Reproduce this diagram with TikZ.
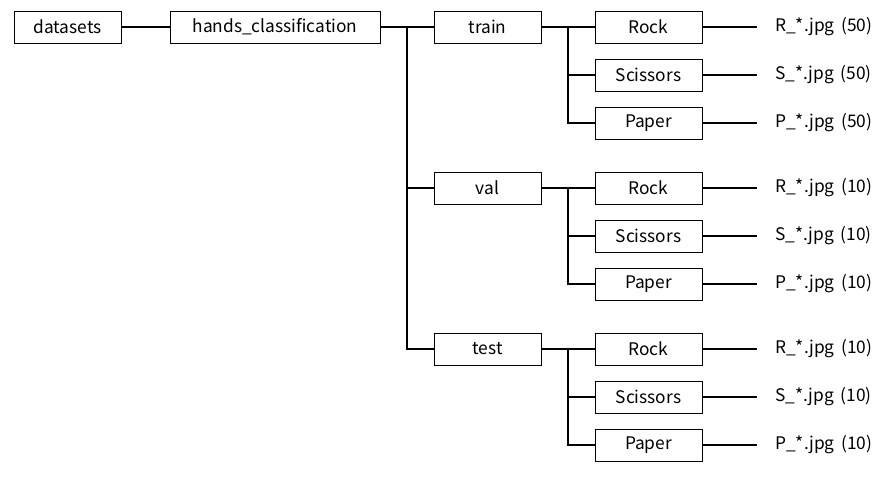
\documentclass[tikz,border=0pt]{standalone}
\usepackage{fontspec}
\setmainfont{Noto Sans CJK JP}
\usepackage{tikz}
\usetikzlibrary{positioning}

\begin{document}
\begin{tikzpicture}[
    x=0.75pt, y=-0.75pt,
    box/.style={draw=black, line width=0.75pt, minimum width=80.25pt,
                minimum height=24pt, inner sep=0pt, align=center,
                font=\fontsize{13}{15}\selectfont},
    file/.style={anchor=west, inner xsep=13.5pt, inner ysep=0pt,
                 font=\fontsize{13}{15}\selectfont},
    link/.style={line width=1.5pt},
]
\useasboundingbox (0,0) rectangle (896,479);

\node[box] (data)  at (67.5,27) {datasets};
\node[box, minimum width=157.5pt] (hands) at (275,27) {hands\_classification};
\node[box] (train) at (487.5,27)  {train};
\node[box] (val)   at (487.5,188) {val};
\node[box] (test)  at (487.5,349) {test};

% train
\node[box] (trR) at (648.5,27)  {Rock};
\node[box] (trS) at (648.5,75)  {Scissors};
\node[box] (trP) at (648.5,123) {Paper};
\node[file] (trRf) at (757,27)  {R\_*.jpg \,(50)};
\node[file] (trSf) at (757,75)  {S\_*.jpg \,(50)};
\node[file] (trPf) at (757,123) {P\_*.jpg \,(50)};

% val
\node[box] (vaR) at (648.5,188) {Rock};
\node[box] (vaS) at (648.5,236) {Scissors};
\node[box] (vaP) at (648.5,284) {Paper};
\node[file] (vaRf) at (757,188) {R\_*.jpg \,(10)};
\node[file] (vaSf) at (757,236) {S\_*.jpg \,(10)};
\node[file] (vaPf) at (757,284) {P\_*.jpg \,(10)};

% test
\node[box] (teR) at (648.5,349) {Rock};
\node[box] (teS) at (648.5,397) {Scissors};
\node[box] (teP) at (648.5,445) {Paper};
\node[file] (teRf) at (757,349) {R\_*.jpg \,(10)};
\node[file] (teSf) at (757,397) {S\_*.jpg \,(10)};
\node[file] (tePf) at (757,445) {P\_*.jpg \,(10)};

\coordinate (split)   at (406.5,27);
\coordinate (trSplit) at (567.5,27);
\coordinate (vaSplit) at (567.5,188);
\coordinate (teSplit) at (567.5,349);

\draw[link] (data) -- (hands);
\draw[link] (hands) -- (train);
\draw[link] (split) |- (val);
\draw[link] (split) |- (test);

\draw[link] (train) -- (trR);
\draw[link] (trSplit) |- (trS);
\draw[link] (trSplit) |- (trP);
\draw[link] (val) -- (vaR);
\draw[link] (vaSplit) |- (vaS);
\draw[link] (vaSplit) |- (vaP);
\draw[link] (test) -- (teR);
\draw[link] (teSplit) |- (teS);
\draw[link] (teSplit) |- (teP);

\draw[link] (trR) -- (trRf);
\draw[link] (trS) -- (trSf);
\draw[link] (trP) -- (trPf);
\draw[link] (vaR) -- (vaRf);
\draw[link] (vaS) -- (vaSf);
\draw[link] (vaP) -- (vaPf);
\draw[link] (teR) -- (teRf);
\draw[link] (teS) -- (teSf);
\draw[link] (teP) -- (tePf);
\end{tikzpicture}
\end{document}
